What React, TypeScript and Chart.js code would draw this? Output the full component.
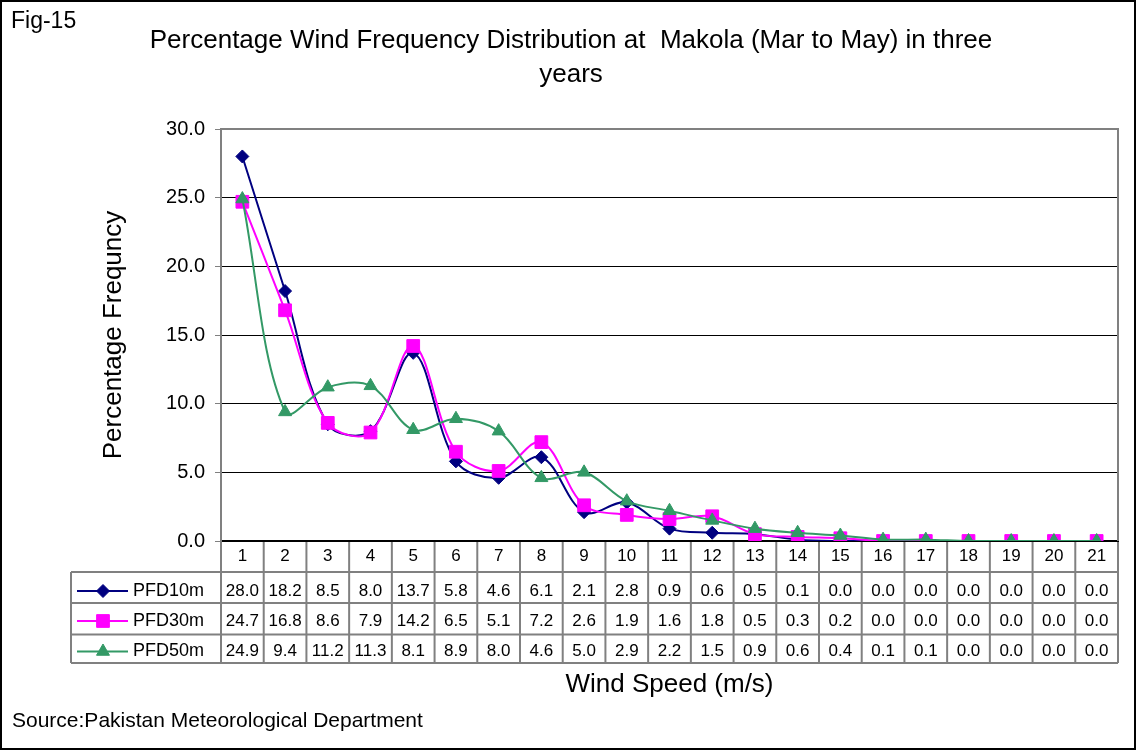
import React, { useEffect, useRef } from 'react';
import { Chart, registerables } from 'chart.js';

Chart.register(...registerables);

const categories = ['1', '2', '3', '4', '5', '6', '7', '8', '9', '10', '11', '12', '13', '14', '15', '16', '17', '18', '19', '20', '21'];
const seriesNames = ['PFD10m', 'PFD30m', 'PFD50m'];
const pfd10m = [28.0, 18.2, 8.5, 8.0, 13.7, 5.8, 4.6, 6.1, 2.1, 2.8, 0.9, 0.6, 0.5, 0.1, 0.0, 0.0, 0.0, 0.0, 0.0, 0.0, 0.0];
const pfd30m = [24.7, 16.8, 8.6, 7.9, 14.2, 6.5, 5.1, 7.2, 2.6, 1.9, 1.6, 1.8, 0.5, 0.3, 0.2, 0.0, 0.0, 0.0, 0.0, 0.0, 0.0];
const pfd50m = [24.9, 9.4, 11.2, 11.3, 8.1, 8.9, 8.0, 4.6, 5.0, 2.9, 2.2, 1.5, 0.9, 0.6, 0.4, 0.1, 0.1, 0.0, 0.0, 0.0, 0.0];
const yTicks = [0, 5, 10, 15, 20, 25, 30];
const titleLines = ['Percentage Wind Frequency Distribution at  Makola (Mar to May) in three', 'years'];
const figLabel = 'Fig-15';
const sourceText = 'Source:Pakistan Meteorological Department';
const yTitle = 'Percentage Frequncy';
const xTitle = 'Wind Speed (m/s)';

const FONT = "'Liberation Sans', Arial, sans-serif";
const COLORS = ['#000080', '#FF00FF', '#339966'];
const STYLES = ['rectRot', 'rect', 'triangle'];
const RADII = [6.5, 9, 7.5];
const GRAY = '#808080';

function drawMarker(ctx: CanvasRenderingContext2D, style: string, x: number, y: number, r: number, color: string) {
  ctx.save();
  ctx.fillStyle = color;
  ctx.strokeStyle = color;
  ctx.lineWidth = 1;
  ctx.beginPath();
  if (style === 'rectRot') {
    ctx.moveTo(x, y - r);
    ctx.lineTo(x + r, y);
    ctx.lineTo(x, y + r);
    ctx.lineTo(x - r, y);
    ctx.closePath();
  } else if (style === 'rect') {
    const s = Math.SQRT1_2 * r;
    ctx.rect(x - s, y - s, 2 * s, 2 * s);
  } else {
    const a = Math.PI / 2;
    for (let k = 0; k < 3; k++) {
      const ang = -a + (k * 2 * Math.PI) / 3;
      const px = x + Math.cos(ang) * r;
      const py = y + Math.sin(ang) * r;
      if (k === 0) ctx.moveTo(px, py);
      else ctx.lineTo(px, py);
    }
    ctx.closePath();
  }
  ctx.fill();
  ctx.stroke();
  ctx.restore();
}

const decorPlugin = {
  id: 'decor',
  afterDraw(chart: any) {
    const { ctx, chartArea } = chart;
    const { left, right, top, bottom } = chartArea;
    const xs = chart.scales.x;
    const n = categories.length;
    const w = (right - left) / n;
    ctx.save();

    // plot area border (top & right)
    ctx.strokeStyle = GRAY;
    ctx.lineWidth = 2;
    ctx.beginPath();
    ctx.moveTo(left, top);
    ctx.lineTo(right, top);
    ctx.lineTo(right, bottom);
    ctx.stroke();

    // data table
    const rowLines = [bottom + 31, bottom + 62, bottom + 93.5, bottom + 122];
    const rowCenters = [bottom + 50, bottom + 80, bottom + 110.5];
    const labelLeft = 71;
    ctx.strokeStyle = GRAY;
    ctx.lineWidth = 2;
    ctx.beginPath();
    for (const y of rowLines) {
      ctx.moveTo(labelLeft, y);
      ctx.lineTo(right, y);
    }
    for (let i = 0; i <= n; i++) {
      const x = left + i * w;
      ctx.moveTo(x, bottom + 1);
      ctx.lineTo(x, rowLines[3]);
    }
    ctx.moveTo(labelLeft, rowLines[0]);
    ctx.lineTo(labelLeft, rowLines[3]);
    ctx.stroke();

    chart.data.datasets.forEach((ds: any, di: number) => {
      const yc = rowCenters[di];
      ctx.fillStyle = '#000';
      ctx.font = `17px ${FONT}`;
      ctx.textAlign = 'center';
      ctx.textBaseline = 'middle';
      ds.data.forEach((v: number, j: number) => {
        ctx.fillText(v.toFixed(1), xs.getPixelForValue(j), yc);
      });
      // legend key
      ctx.strokeStyle = COLORS[di];
      ctx.lineWidth = 2;
      ctx.beginPath();
      ctx.moveTo(77, yc);
      ctx.lineTo(128, yc);
      ctx.stroke();
      drawMarker(ctx, STYLES[di], 103, yc, RADII[di], COLORS[di]);
      ctx.fillStyle = '#000';
      ctx.font = `18px ${FONT}`;
      ctx.textAlign = 'left';
      ctx.fillText(ds.label, 133, yc);
    });

    // titles and notes
    ctx.fillStyle = '#000';
    ctx.textBaseline = 'alphabetic';
    ctx.textAlign = 'center';
    ctx.font = `26px ${FONT}`;
    ctx.fillText(titleLines[0], 571, 48);
    ctx.fillText(titleLines[1], 571, 82);
    ctx.textAlign = 'left';
    ctx.font = `23px ${FONT}`;
    ctx.fillText(figLabel, 11, 28);
    ctx.font = `21px ${FONT}`;
    ctx.fillText(sourceText, 12, 727);

    // outer frame
    ctx.strokeStyle = '#000';
    ctx.lineWidth = 2;
    ctx.strokeRect(1, 1, chart.width - 2, chart.height - 2);
    ctx.restore();
  },
};

export default function App() {
  const ref = useRef<HTMLCanvasElement | null>(null);
  useEffect(() => {
    if (!ref.current) return;
    const seriesValues = [pfd10m, pfd30m, pfd50m];
    const chart = new Chart(ref.current, {
      type: 'line',
      data: {
        labels: categories,
        datasets: seriesValues.map((vals, i) => ({
          label: seriesNames[i],
          data: vals,
          borderColor: COLORS[i],
          backgroundColor: COLORS[i],
          borderWidth: 2,
          pointStyle: STYLES[i] as any,
          pointRadius: RADII[i],
          pointHoverRadius: RADII[i],
          pointBorderWidth: 1,
          tension: 0.35,
          fill: false,
          order: 3 - i,
        })),
      },
      options: {
        responsive: false,
        animation: false,
        events: [],
        layout: { padding: { left: 0, right: 18, top: 129, bottom: 30 } },
        plugins: {
          legend: { display: false },
          title: { display: false },
          tooltip: { enabled: false },
        },
        scales: {
          x: {
            offset: true,
            grid: { display: true, drawOnChartArea: false, drawTicks: false, offset: true },
            border: { color: '#000', width: 2 },
            ticks: { font: { size: 17, family: FONT }, color: '#000', padding: 5, autoSkip: false, maxRotation: 0 },
            title: { display: true, text: xTitle, font: { size: 26, family: FONT }, color: '#000', padding: { top: 0, bottom: 20 } },
            afterFit: (s: any) => { s.height = 179; },
          },
          y: {
            min: 0,
            max: 30,
            afterBuildTicks: (s: any) => { s.ticks = yTicks.map((v) => ({ value: v })); },
            ticks: { font: { size: 20, family: FONT }, color: '#000', padding: 10, callback: (v: any) => Number(v).toFixed(1) },
            grid: {
              color: (c: any) => (c.tick && c.tick.value === 30 ? 'rgba(0,0,0,0)' : '#000'),
              lineWidth: 1,
              tickColor: GRAY,
              tickLength: 6,
              drawTicks: true,
            },
            border: { color: GRAY, width: 2 },
            title: { display: true, text: yTitle, font: { size: 26, family: FONT }, color: '#000', padding: { top: 98, bottom: 0 } },
            afterFit: (s: any) => { s.width = 221; },
          },
        },
      },
      plugins: [decorPlugin],
    });
    return () => chart.destroy();
  }, []);
  return (
    <div style={{ position: 'absolute', left: 0, top: 0, width: 1136, height: 750, background: '#fff' }}>
      <canvas ref={ref} width={1136} height={750} style={{ display: 'block' }} />
    </div>
  );
}
